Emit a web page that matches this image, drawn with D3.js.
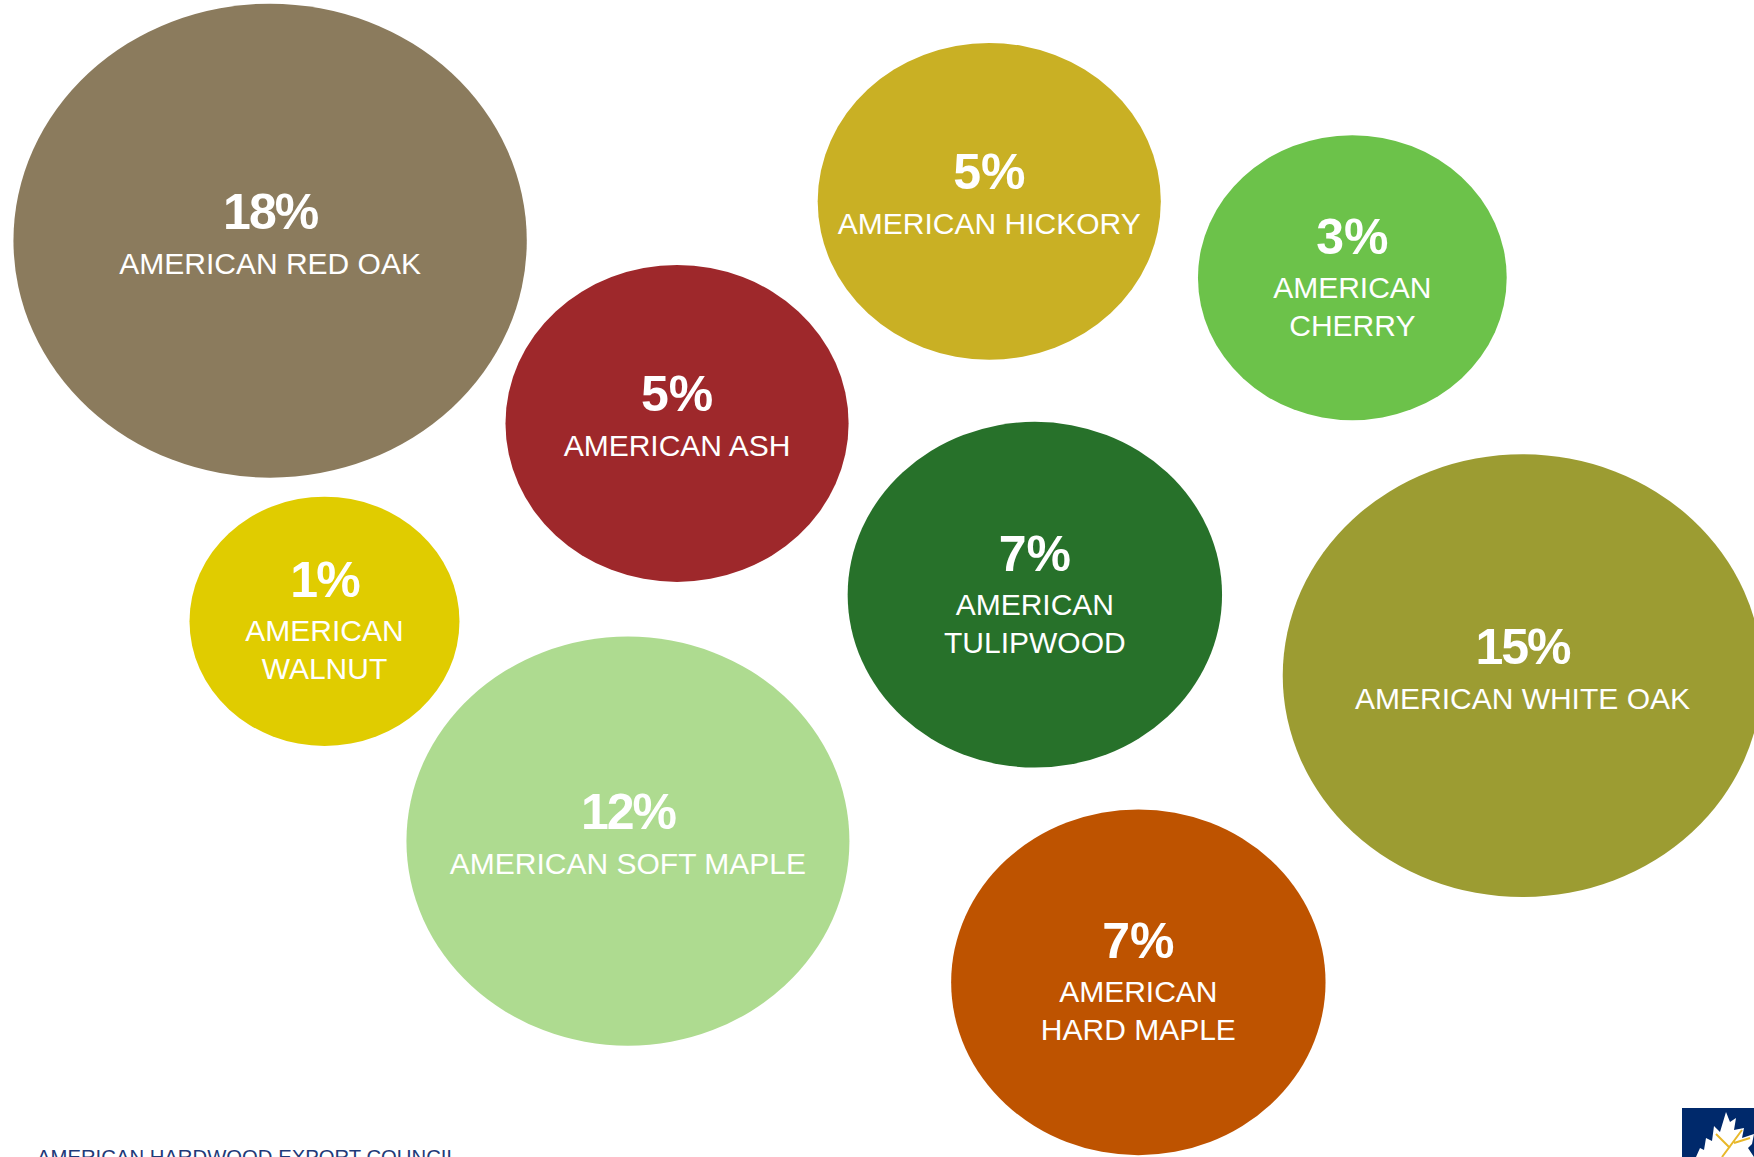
<!DOCTYPE html>
<html>
<head>
<meta charset="utf-8">
<script src="https://cdn.jsdelivr.net/npm/d3@7"></script>
<style>
  html, body { margin: 0; padding: 0; background: #ffffff; overflow: hidden; }
  svg { display: block; }
</style>
</head>
<body>
<svg id="chart" width="1754" height="1157"></svg>
<script>
// ---- data ----
const species = ["AMERICAN RED OAK","AMERICAN HICKORY","AMERICAN CHERRY","AMERICAN ASH","AMERICAN WALNUT","AMERICAN TULIPWOOD","AMERICAN WHITE OAK","AMERICAN SOFT MAPLE","AMERICAN HARD MAPLE"];
const labelLines = [["AMERICAN RED OAK"],["AMERICAN HICKORY"],["AMERICAN","CHERRY"],["AMERICAN ASH"],["AMERICAN","WALNUT"],["AMERICAN","TULIPWOOD"],["AMERICAN WHITE OAK"],["AMERICAN SOFT MAPLE"],["AMERICAN","HARD MAPLE"]];
const shares = [18, 5, 3, 5, 1, 7, 15, 12, 7];
const posX = [15.4, 56.4, 77.1, 38.6, 18.5, 59.0, 86.8, 35.8, 64.9];
const posY = [20.8, 17.4, 24.0, 36.6, 53.7, 51.4, 58.4, 72.7, 84.9];
const colors = ["#8B7B5D","#C9B024","#6CC24A","#9E282B","#E0CC00","#27712A","#9C9C32","#AEDB90","#BE5300"];
const footer = "AMERICAN HARDWOOD EXPORT COUNCIL";

// ---- layout ----
const W = 1754, H = 1157;
const svg = d3.select("#chart");
const x = d3.scaleLinear().domain([0, 100]).range([0, W]);
const y = d3.scaleLinear().domain([0, 100]).range([0, H]);
const sizeOffset = 5.5;
const r = d3.scaleSqrt().domain([0, 18 + sizeOffset]).range([0, 237]);
const stretch = 1.083;

const data = species.map((s, i) => ({
  name: s, lines: labelLines[i], v: shares[i], px: posX[i], py: posY[i], c: colors[i]
}));

const g = svg.append("g");
const bubbles = g.selectAll("g.bubble").data(data).join("g")
  .attr("class", "bubble")
  .attr("transform", d => `translate(${x(d.px)},${y(d.py)})`);

bubbles.append("ellipse")
  .attr("rx", d => r(d.v + sizeOffset) * stretch)
  .attr("ry", d => r(d.v + sizeOffset))
  .attr("fill", d => d.c);

bubbles.each(function(d) {
  const el = d3.select(this);
  const two = d.lines.length > 1;
  const pctCenter = two ? -42 : -30;
  el.append("text")
    .attr("text-anchor", "middle")
    .attr("y", pctCenter + 18)
    .attr("fill", "#ffffff")
    .attr("font-family", "'Liberation Sans', Arial, sans-serif")
    .attr("font-weight", "bold")
    .attr("font-size", 50)
    .attr("letter-spacing", String(d.v).includes("1") ? -2 : 0)
    .text(d.v + "%");
  const lineCenters = two ? [9, 47] : [22];
  d.lines.forEach((ln, k) => {
    el.append("text")
      .attr("text-anchor", "middle")
      .attr("y", lineCenters[k] + 11)
      .attr("fill", "#ffffff")
      .attr("font-family", "'Liberation Sans', Arial, sans-serif")
      .attr("font-size", 30)
      .text(ln);
  });
});

// footer text (cut off at bottom, as in reference)
svg.append("text")
  .attr("x", 37).attr("y", 1164)
  .attr("fill", "#1F3A78")
  .attr("font-family", "'Liberation Sans', Arial, sans-serif")
  .attr("font-size", 20.3)
  .text(footer);

// logo corner
const logo = svg.append("g").attr("transform", "translate(1682,1108)");
logo.append("rect").attr("width", 80).attr("height", 60).attr("fill", "#00296B");
logo.append("path")
  .attr("d", "M14,49 L18,40 L22,42 L24,30 L30,33 L32,18 L38,24 L44,4 L48,14 L54,10 L52,22 L62,20 L60,30 L72,26 L70,36 L66,40 L72,49 Z")
  .attr("fill", "#ffffff");
logo.append("path")
  .attr("d", "M40,49 L60,22 M48,40 L34,26 M52,35 L68,30")
  .attr("stroke", "#E8B82A").attr("stroke-width", 2).attr("fill", "none");
</script>
</body>
</html>
